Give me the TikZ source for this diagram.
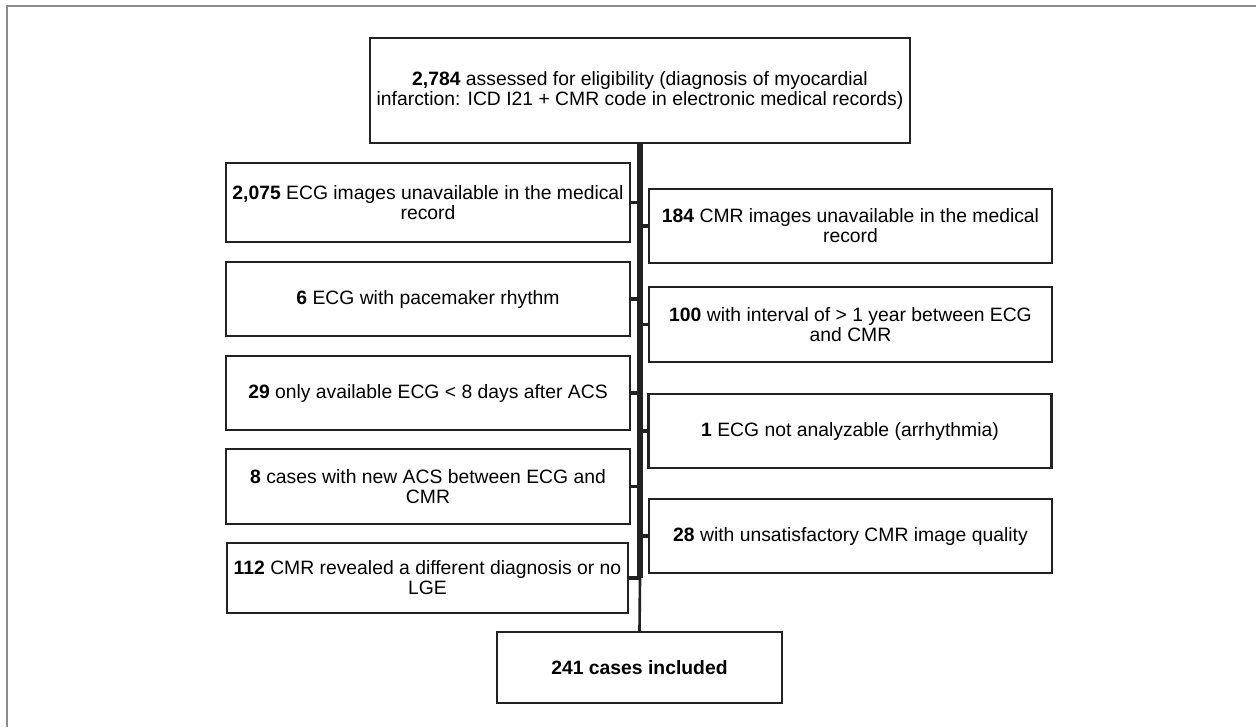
\documentclass[tikz,border=0pt]{standalone}
\usepackage{fontspec}
\setmainfont{Liberation Sans}
\definecolor{boxgray}{HTML}{222222}
\definecolor{framegray}{HTML}{8C8C8C}
\begin{document}
\begin{tikzpicture}[x=0.2mm,y=-0.2mm,
    box/.style={draw=boxgray,line width=1.2pt,align=center,inner sep=0pt,
      font=\fontsize{11}{11.4}\selectfont},
    leftbox/.style={box,minimum width=80.8mm},
    rightbox/.style={box,minimum width=80.6mm},
    stub/.style={draw=boxgray,line width=1.8pt}]
  \useasboundingbox (0,0) rectangle (1256,727);
  \draw[framegray,line width=0.4mm] (7,727) -- (7,6) -- (1256,6);
  \node[box,minimum width=108mm,minimum height=21mm] (all) at (640,90.5)
    {\textbf{2,784} assessed for eligibility (diagnosis of myocardial\\
     infarction: ICD I21 + CMR code in electronic medical records)};
  \node[leftbox,minimum height=15.8mm] (l1) at (428,202.5)
    {\textbf{2,075} ECG images unavailable in the medical\\ record};
  \node[leftbox,minimum height=14.8mm] (l2) at (428,299)
    {\textbf{6} ECG with pacemaker rhythm};
  \node[leftbox,minimum height=14.8mm] (l3) at (428,393)
    {\textbf{29} only available ECG < 8 days after ACS};
  \node[leftbox,minimum height=15mm] (l4) at (428,486.5)
    {\textbf{8} cases with new ACS between ECG and\\ CMR};
  \node[leftbox,minimum width=80.2mm,minimum height=14mm] (l5) at (427.5,578)
    {\textbf{112} CMR revealed a different diagnosis or no\\ LGE};
  \node[rightbox,minimum height=14.8mm] (r1) at (850.5,226)
    {\textbf{184} CMR images unavailable in the medical\\ record};
  \node[rightbox,minimum height=15mm] (r2) at (850.5,324.5)
    {\textbf{100} with interval of > 1 year between ECG\\ and CMR};
  \node[rightbox,minimum height=14.8mm] (r3) at (850,431)
    {\textbf{1} ECG not analyzable (arrhythmia)};
  \node[rightbox,minimum height=14.8mm] (r4) at (850.5,536)
    {\textbf{28} with unsatisfactory CMR image quality};
  \node[box,minimum width=57mm,minimum height=14.2mm] (incl) at (639.5,667.5)
    {\textbf{241 cases included}};
  % trunk
  \coordinate (split) at (l5.east -| all.south);
  \draw[boxgray,line width=3.2pt] (all.south) -- (split);
  \draw[boxgray,line width=1.5pt] (split) -- (incl.north);
  % branches
  \foreach \n in {l1,l2,l3,l4,l5}
    \draw[stub] (\n.east) -- (\n.east -| all.south);
  \foreach \n in {r1,r2,r3,r4}
    \draw[stub] (\n.west -| all.south) -- (\n.west);
\end{tikzpicture}
\end{document}
